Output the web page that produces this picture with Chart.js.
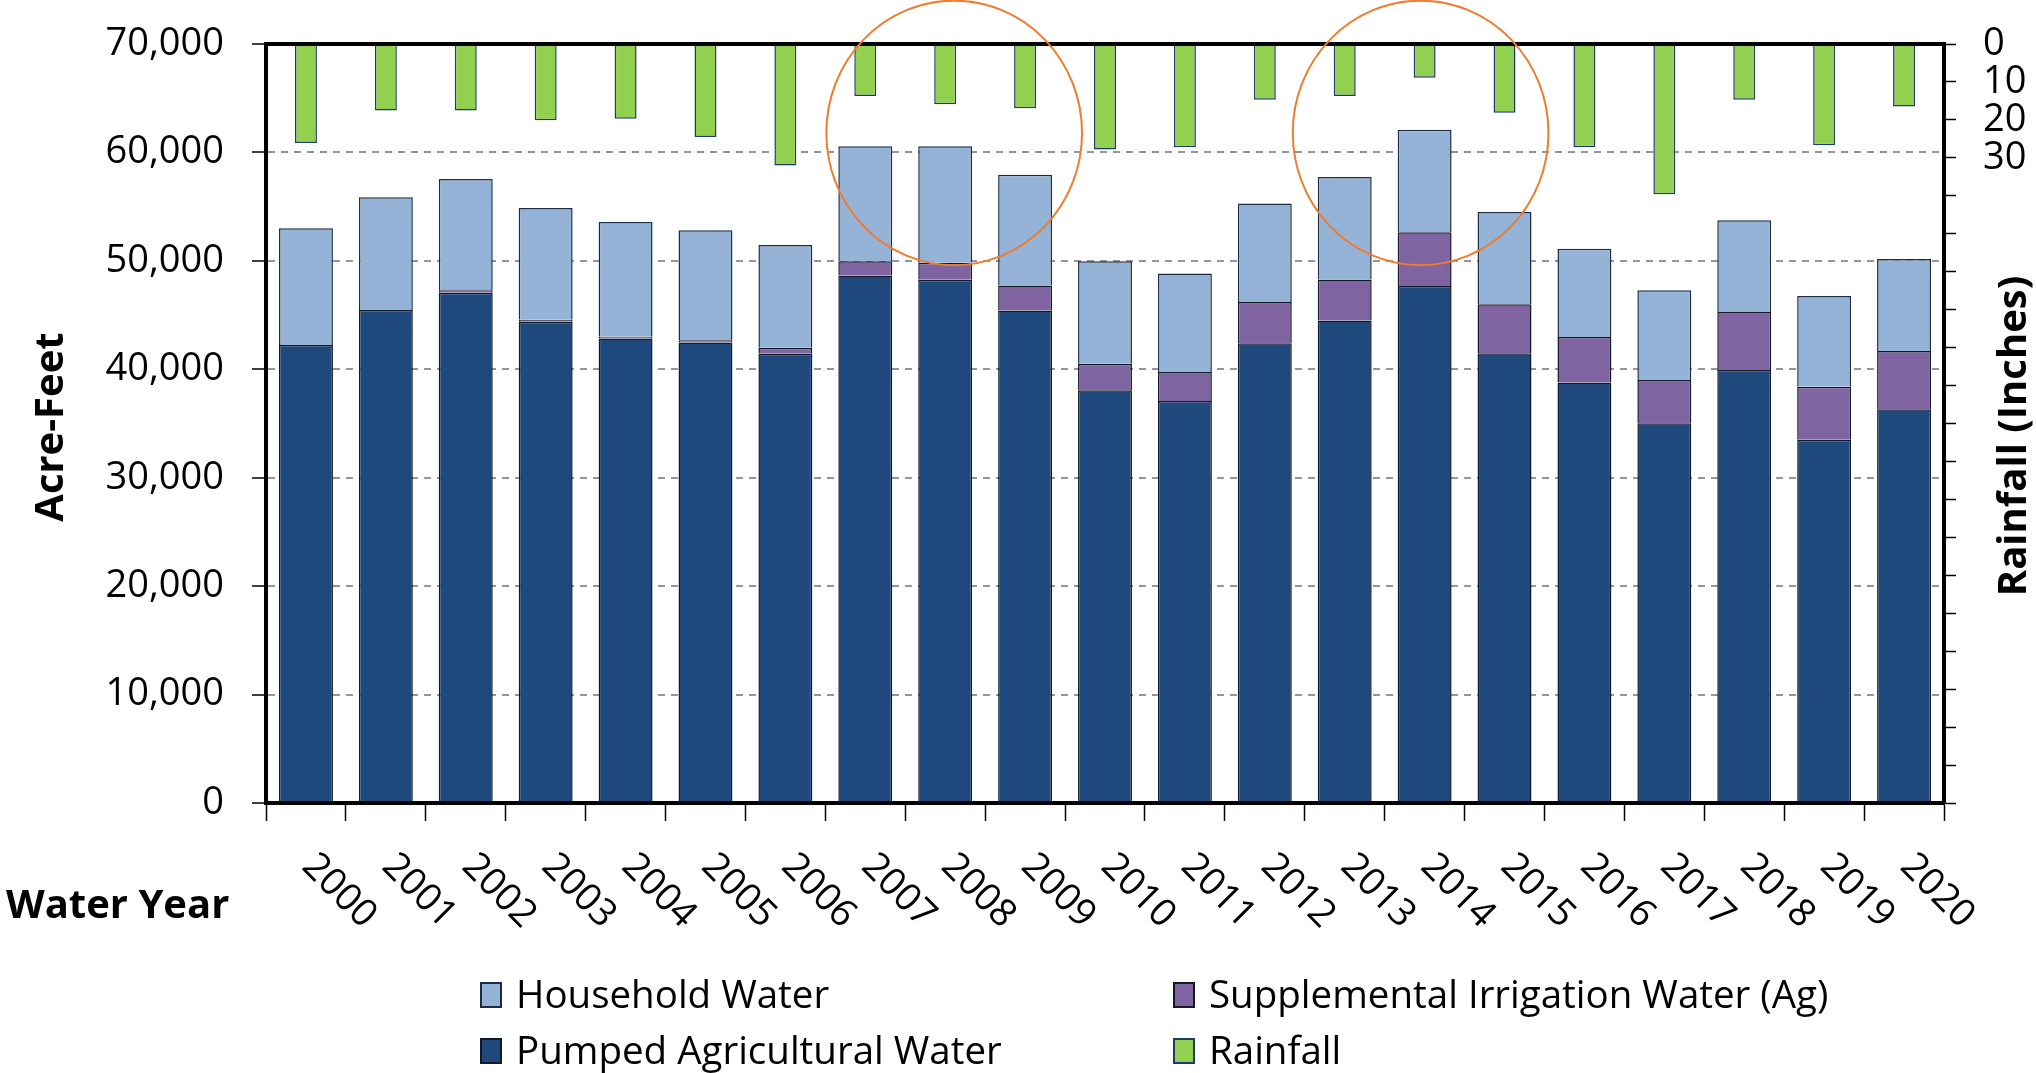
<!DOCTYPE html>
<html>
<head>
<meta charset="utf-8">
<script src="https://cdn.jsdelivr.net/npm/chart.js@4.4.1/dist/chart.umd.min.js"></script>
<style>
  body { margin: 0; background: #fff; }
  canvas { display: block; }
</style>
</head>
<body>
<canvas id="waterChart" width="2036" height="1073"></canvas>
<script>
// Data
const years = ["2000", "2001", "2002", "2003", "2004", "2005", "2006", "2007", "2008", "2009", "2010",
  "2011", "2012", "2013", "2014", "2015", "2016", "2017", "2018", "2019", "2020"];

const pumpedAg = [42240, 45460, 47050, 44380, 42850, 42480, 41440, 48650, 48250, 45430, 38070,
  37080, 42390, 44510, 47670, 41470, 38770, 35030, 39940, 33490, 36320];

const supplementalAg = [0, 0, 250, 200, 150, 200, 550, 1320, 1570, 2300, 2450,
  2670, 3810, 3780, 4970, 4520, 4200, 3980, 5340, 4910, 5370];

const household = [10770, 10410, 10250, 10300, 10590, 10150, 9480, 10590, 10740, 10220, 9450,
  9090, 9080, 9440, 9460, 8520, 8140, 8290, 8470, 8350, 8490];

const rainfall = [26.1, 17.5, 17.5, 20.1, 19.7, 24.5, 32.0, 13.7, 15.9, 16.9, 27.8,
  27.2, 14.7, 13.7, 8.9, 18.1, 27.2, 39.6, 14.7, 26.7, 16.5];

// tick settings for the two value axes
const acreFeetTicks = { min: 0, max: 70000, step: 10000 };
const rainTicks = { min: 0, max: 200, step: 10, lastLabel: 30 };

// years circled in orange (hand drawn, so a little off centre)
const highlightYears = ["2008", "2014"];
const highlightShift = [9, -4];

Chart.defaults.font.family = "'Open Sans', 'Noto Sans', sans-serif";
Chart.defaults.color = "#000";

const FONT = "'Open Sans', 'Noto Sans', sans-serif";

// Plugin untuk teks, legenda dan lingkaran
const overlayPlugin = {
  id: "overlay",
  afterDraw(chart) {
    const { ctx, chartArea, scales } = chart;
    const xs = scales.x;
    const ys = scales.y;
    ctx.save();

    // top frame line
    ctx.strokeStyle = "#000";
    ctx.lineWidth = 4;
    ctx.beginPath();
    ctx.moveTo(chartArea.left - 2, chartArea.top);
    ctx.lineTo(chartArea.right + 2, chartArea.top);
    ctx.stroke();

    // rotated year labels
    ctx.fillStyle = "#000";
    ctx.font = "38px " + FONT;
    ctx.textAlign = "center";
    ctx.textBaseline = "middle";
    years.forEach((yr, i) => {
      const px = xs.getPixelForValue(i);
      ctx.save();
      ctx.translate(px + 33, chartArea.bottom + 88);
      ctx.rotate(Math.PI / 4);
      ctx.fillText(yr, 0, 0);
      ctx.restore();
    });

    // axis titles
    ctx.font = "bold 40px " + FONT;
    ctx.save();
    ctx.translate(52, 427);
    ctx.rotate(-Math.PI / 2);
    ctx.fillText("Acre-Feet", 0, 0);
    ctx.restore();

    ctx.save();
    ctx.translate(2015, 436);
    ctx.rotate(-Math.PI / 2);
    ctx.fillText("Rainfall (Inches)", 0, 0);
    ctx.restore();

    ctx.textAlign = "left";
    ctx.textBaseline = "alphabetic";
    ctx.fillText("Water Year", 6, 918);

    // legend (2 x 2)
    const ds = chart.data.datasets;
    const legendItems = [
      { d: ds[2], x: 480, y: 982 },
      { d: ds[1], x: 1173, y: 982 },
      { d: ds[0], x: 480, y: 1038 },
      { d: ds[3], x: 1173, y: 1038 },
    ];
    ctx.font = "38.5px " + FONT;
    legendItems.forEach((it) => {
      ctx.fillStyle = it.d.backgroundColor;
      ctx.fillRect(it.x, it.y, 22, 26);
      ctx.strokeStyle = it.d.borderColor;
      ctx.lineWidth = 2;
      ctx.strokeRect(it.x + 1, it.y + 1, 20, 24);
      ctx.fillStyle = "#000";
      ctx.fillText(it.d.label, it.x + 36, it.y + 26);
    });

    // orange highlight ellipses
    ctx.strokeStyle = "#ED7D31";
    ctx.lineWidth = 2;
    const catW = xs.getPixelForValue(1) - xs.getPixelForValue(0);
    highlightYears.forEach((yr, k) => {
      const cx = xs.getPixelForValue(years.indexOf(yr)) + highlightShift[k];
      const cy = ys.getPixelForValue(61800);
      const ry = ys.getPixelForValue(49600) - cy;
      ctx.beginPath();
      ctx.ellipse(cx, cy, catW * 1.6, ry, 0, 0, Math.PI * 2);
      ctx.stroke();
    });

    ctx.restore();
  },
};

// lebar sumbu tetap, tanpa padding tambahan dari label
function fixAxis(width) {
  return (s) => {
    s.width = width;
    s.paddingTop = 0;
    s.paddingBottom = 0;
  };
}

const ctx = document.getElementById("waterChart").getContext("2d");

new Chart(ctx, {
  type: "bar",
  data: {
    labels: years,
    datasets: [
      {
        label: "Pumped Agricultural Water",
        data: pumpedAg,
        backgroundColor: "#1F497D",
        borderColor: "#111a26",
        borderWidth: 1.5,
        yAxisID: "y",
        barPercentage: 0.675,
        categoryPercentage: 1,
      },
      {
        label: "Supplemental Irrigation Water (Ag)",
        data: supplementalAg,
        backgroundColor: "#8064A2",
        borderColor: "#111a26",
        borderWidth: 1.5,
        yAxisID: "y",
        barPercentage: 0.675,
        categoryPercentage: 1,
      },
      {
        label: "Household Water",
        data: household,
        backgroundColor: "#95B3D7",
        borderColor: "#1c2d45",
        borderWidth: 1.5,
        yAxisID: "y",
        barPercentage: 0.675,
        categoryPercentage: 1,
      },
      {
        label: "Rainfall",
        data: rainfall,
        backgroundColor: "#92D050",
        borderColor: "#1F3A6E",
        borderWidth: 1.5,
        yAxisID: "y2",
        barPercentage: 0.275,
        categoryPercentage: 1,
      },
    ],
  },
  options: {
    responsive: false,
    animation: false,
    layout: { padding: { top: 44, left: 0, right: 0, bottom: 0 } },
    plugins: {
      legend: { display: false },
      tooltip: { enabled: false },
    },
    scales: {
      x: {
        stacked: true,
        offset: true,
        afterFit: (s) => { s.height = 270; },
        grid: {
          offset: true,
          drawOnChartArea: false,
          drawTicks: true,
          tickLength: 18,
          tickColor: "#000",
          tickWidth: 1.5,
        },
        border: { display: true, color: "#000", width: 4, z: 1 },
        ticks: { display: false, autoSkip: false },
      },
      y: {
        position: "left",
        stacked: true,
        min: acreFeetTicks.min,
        max: acreFeetTicks.max,
        afterFit: fixAxis(266),
        grid: {
          color: "#969696",
          lineWidth: 2,
          tickLength: 14,
          tickColor: "#000",
          tickWidth: 1.5,
        },
        border: { display: true, color: "#000", width: 4, dash: [7, 6], z: 1 },
        ticks: {
          stepSize: acreFeetTicks.step,
          padding: 28,
          font: { size: 38 },
          color: "#000",
          callback: (v) => v.toLocaleString("en-US"),
        },
      },
      y2: {
        position: "right",
        reverse: true,
        min: rainTicks.min,
        max: rainTicks.max,
        afterFit: fixAxis(92),
        grid: {
          drawOnChartArea: false,
          tickLength: 12,
          tickColor: "#000",
          tickWidth: 1.5,
        },
        border: { display: true, color: "#000", width: 4, z: 1 },
        ticks: {
          stepSize: rainTicks.step,
          padding: 27,
          font: { size: 38 },
          color: "#000",
          autoSkip: false,
          callback: (v) => (v <= rainTicks.lastLabel ? String(v) : ""),
        },
      },
    },
  },
  plugins: [overlayPlugin],
});
</script>
</body>
</html>
